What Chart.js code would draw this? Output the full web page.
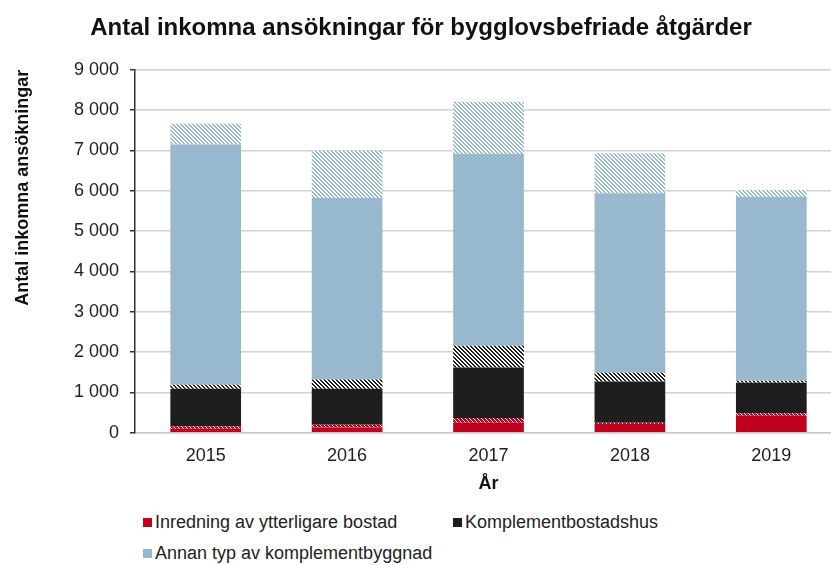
<!DOCTYPE html>
<html lang="sv">
<head>
  <meta charset="UTF-8" />
  <title>Antal inkomna ansökningar</title>
  <script src="https://cdn.jsdelivr.net/npm/chart.js"></script>
  <style>
    body {
      margin: 0;
      background: #fff;
      overflow: hidden;
      font-family: "Liberation Sans", Arial, sans-serif;
    }
    .wrap {
      position: relative;
      width: 831px;
      height: 565px;
      overflow: hidden;
    }
    #chart {
      position: absolute;
      left: 0;
      top: 0;
    }
    .legend-item {
      position: absolute;
      font-size: 18px;
      color: #222;
      line-height: 20px;
      white-space: nowrap;
    }
    .legend-item span {
      display: inline-block;
      width: 9px;
      height: 9px;
      margin-right: 3px;
      vertical-align: 1px;
    }
  </style>
</head>
<body>
  <div class="wrap">
    <canvas id="chart" width="845" height="495"></canvas>
    <div id="legend"></div>
  </div>

  <script>
    const years = ['2015', '2016', '2017', '2018', '2019'];
    // solid parts and hatched parts stacked on top of each
    const inredning = [100, 130, 250, 220, 420];
    const inredningHatch = [60, 70, 120, 30, 60];
    const komplementbostadshus = [930, 890, 1250, 1020, 760];
    const komplementHatch = [100, 230, 540, 220, 50];
    const annanTyp = [5960, 4500, 4750, 4450, 4560];
    const annanHatch = [510, 1180, 1300, 990, 170];
    const yTicks = [0, 1000, 2000, 3000, 4000, 5000, 6000, 7000, 8000, 9000];

    const RED = '#c0001f';
    const BLACK = '#1e1e1e';
    const BLUE = '#98b9cd';

    function hatch(color, thick) {
      const c = document.createElement('canvas');
      c.width = 4;
      c.height = 4;
      const g = c.getContext('2d');
      g.fillStyle = '#ffffff';
      g.fillRect(0, 0, 4, 4);
      g.fillStyle = color;
      for (let i = 0; i < 4; i++) {
        for (let k = 0; k < thick; k++) {
          g.fillRect((i + k) % 4, i, 1, 1);
        }
      }
      return g.createPattern(c, 'repeat');
    }

    const FONT = '"Liberation Sans", Arial, sans-serif';

    new Chart(document.getElementById('chart'), {
      type: 'bar',
      data: {
        labels: years,
        datasets: [
          { label: 'Inredning av ytterligare bostad', data: inredning, backgroundColor: RED },
          { label: 'inredning_hatch', data: inredningHatch, backgroundColor: hatch(RED, 3) },
          { label: 'Komplementbostadshus', data: komplementbostadshus, backgroundColor: BLACK },
          { label: 'komplement_hatch', data: komplementHatch, backgroundColor: hatch(BLACK, 2) },
          { label: 'Annan typ av komplementbyggnad', data: annanTyp, backgroundColor: BLUE },
          { label: 'annan_hatch', data: annanHatch, backgroundColor: hatch(BLUE, 2) }
        ]
      },
      options: {
        responsive: false,
        animation: false,
        datasets: {
          bar: { barPercentage: 0.5, categoryPercentage: 1.0, borderWidth: 0 }
        },
        layout: { padding: { left: 0, right: 3, top: 0, bottom: 0 } },
        plugins: {
          legend: { display: false },
          tooltip: { enabled: false },
          title: {
            display: true,
            text: 'Antal inkomna ansökningar för bygglovsbefriade åtgärder',
            color: '#111',
            font: { family: FONT, size: 24, weight: 'bold' },
            padding: { top: 14, bottom: 27 }
          }
        },
        scales: {
          x: {
            stacked: true,
            grid: { display: false, drawTicks: false },
            border: { color: '#c8c8c8', width: 1.5 },
            ticks: { color: '#222', font: { family: FONT, size: 18 }, padding: 12 },
            title: {
              display: true,
              text: 'År',
              color: '#111',
              font: { family: FONT, size: 18, weight: 'bold' },
              padding: { top: -5, bottom: 0 }
            }
          },
          y: {
            stacked: true,
            min: 0,
            max: 9000,
            afterFit: scale => { scale.width = 135; },
            afterBuildTicks: scale => { scale.ticks = yTicks.map(v => ({ value: v })); },
            grid: { color: '#d2d2d2', lineWidth: 1.5, tickLength: 5, tickColor: '#333' },
            border: { color: '#333', width: 1.5 },
            ticks: {
              color: '#222',
              padding: 11,
              font: { family: FONT, size: 18 },
              callback: v => v === 0 ? '0' : String(v).replace(/\B(?=(\d{3})+(?!\d))/g, ' ')
            },
            title: {
              display: true,
              text: 'Antal inkomna ansökningar',
              align: 'end',
              color: '#111',
              font: { family: FONT, size: 18, weight: 'bold' },
              padding: { top: 12, bottom: 0 }
            }
          }
        }
      }
    });

    // legend: only the solid series are listed
    const legendItems = [
      { text: 'Inredning av ytterligare bostad', color: RED, x: 143, y: 512 },
      { text: 'Komplementbostadshus', color: BLACK, x: 453, y: 512 },
      { text: 'Annan typ av komplementbyggnad', color: BLUE, x: 143, y: 543 }
    ];
    const legend = document.getElementById('legend');
    legendItems.forEach(it => {
      const d = document.createElement('div');
      d.className = 'legend-item';
      d.style.left = it.x + 'px';
      d.style.top = it.y + 'px';
      d.innerHTML = `<span style="background:${it.color}"></span>${it.text}`;
      legend.appendChild(d);
    });
  </script>
</body>
</html>
